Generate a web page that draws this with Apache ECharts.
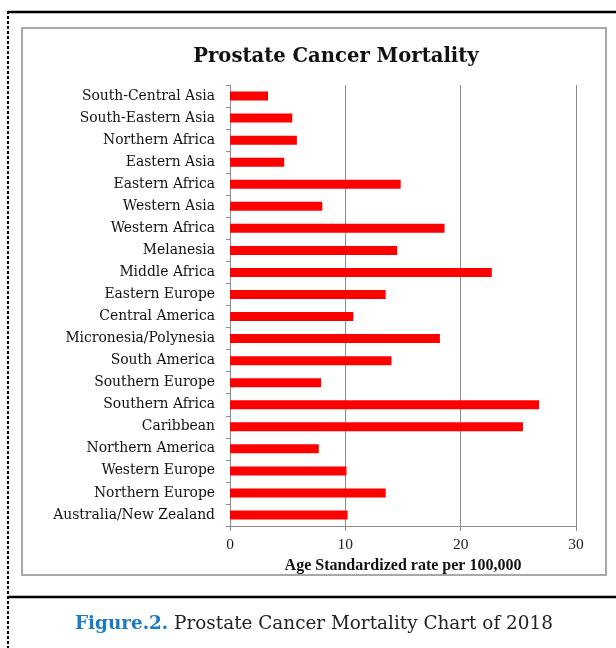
<!DOCTYPE html>
<html>
<head>
<meta charset="utf-8">
<script src="https://cdn.jsdelivr.net/npm/echarts@6/dist/echarts.min.js"></script>
<style>
html,body{margin:0;padding:0;background:#fff;}
#chart{width:616px;height:648px;}
</style>
</head>
<body>
<div id="chart"></div>
<script>
const chartTitle = 'Prostate Cancer Mortality';
const xAxisName = 'Age Standardized rate per 100,000';
const captionBold = 'Figure.2.';
const captionText = ' Prostate Cancer Mortality Chart of 2018';
const regions = [
  'South-Central Asia','South-Eastern Asia','Northern Africa','Eastern Asia','Eastern Africa',
  'Western Asia','Western Africa','Melanesia','Middle Africa','Eastern Europe',
  'Central America','Micronesia/Polynesia','South America','Southern Europe','Southern Africa',
  'Caribbean','Northern America','Western Europe','Northern Europe','Australia/New Zealand'
];
const mortality = [3.3,5.4,5.8,4.7,14.8,8.0,18.6,14.5,22.7,13.5,10.7,18.2,14.0,7.9,26.8,25.4,7.7,10.1,13.5,10.2];
const xTicks = [0,10,20,30];

const chart = echarts.init(document.getElementById('chart'), null, {renderer:'canvas'});
const option = {
  backgroundColor:'#fff',
  animation:false,
  title:{
    text: chartTitle, left: 331, top: 42, textAlign:'center',
    textStyle:{fontFamily:'DejaVu Serif', fontWeight:'bold', fontSize:19.6, color:'#111'}
  },
  grid:{left:230, right:40, top:85, bottom:122, containLabel:false},
  xAxis:{
    type:'value', min:xTicks[0], max:xTicks[xTicks.length-1], interval:10,
    name: xAxisName, nameLocation:'middle', nameGap:30,
    nameTextStyle:{fontFamily:'Liberation Serif', fontWeight:'bold', fontSize:16, color:'#111'},
    axisLine:{show:true, lineStyle:{color:'#8c8c8c', width:1}},
    axisTick:{show:true, length:5, lineStyle:{color:'#8c8c8c'}},
    axisLabel:{fontFamily:'Liberation Serif', fontSize:15.5, color:'#222', margin:11},
    splitLine:{show:true, lineStyle:{color:'#8c8c8c', width:1}}
  },
  yAxis:{
    type:'category', data:regions, inverse:true,
    axisLine:{show:true, lineStyle:{color:'#8c8c8c', width:1}},
    axisTick:{show:true, length:4, alignWithLabel:false, lineStyle:{color:'#8c8c8c'}},
    axisLabel:{fontFamily:'DejaVu Serif', fontSize:13.9, color:'#111', margin:15},
    splitLine:{show:false}
  },
  series:[{
    type:'bar', data:mortality, barWidth:9,
    itemStyle:{color:'#ff0000'}
  }],
  graphic:[
    {type:'rect', shape:{x:22, y:28, width:584, height:547}, style:{fill:'none', stroke:'#a8a8a8', lineWidth:2}, z:-1},
    {type:'line', shape:{x1:8, y1:12, x2:616, y2:12}, style:{stroke:'#000', lineWidth:2.5}},
    {type:'line', shape:{x1:8, y1:597, x2:616, y2:597}, style:{stroke:'#000', lineWidth:2.5}},
    {type:'line', shape:{x1:8, y1:11, x2:8, y2:648}, style:{stroke:'#000', lineWidth:2, lineDash:[3,2]}},
    {type:'text', left:75, top:615, style:{
      text:'{b|' + captionBold + '}{r|' + captionText + '}',
      rich:{
        b:{fontFamily:'DejaVu Serif', fontWeight:'bold', fontSize:18.4, fill:'#1a7bc4'},
        r:{fontFamily:'DejaVu Serif', fontSize:18.4, fill:'#222'}
      }
    }}
  ]
};
chart.setOption(option);
</script>
</body>
</html>
